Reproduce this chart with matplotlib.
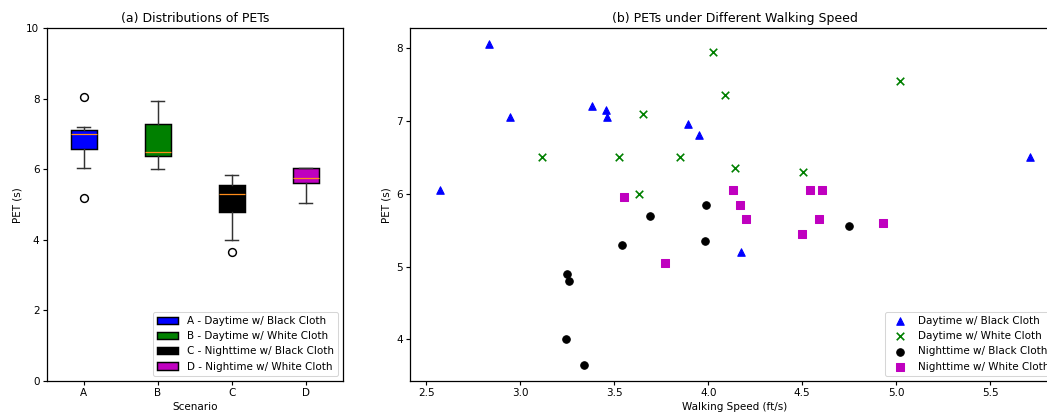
import numpy as np
import matplotlib
matplotlib.use("Agg")
import matplotlib.pyplot as plt

# walking speed (ft/s) and PET (s) per scenario
speed_a = [2.57, 2.835, 2.945, 3.38, 3.455, 3.46, 3.89, 3.95, 4.175, 5.71]
pet_a = [6.05, 8.05, 7.05, 7.2, 7.15, 7.05, 6.95, 6.8, 5.2, 6.5]

speed_b = [3.115, 3.525, 3.655, 3.633, 3.85, 4.027, 4.09, 4.14, 4.505, 5.02]
pet_b = [6.5, 6.5, 7.1, 6.0, 6.5, 7.95, 7.35, 6.35, 6.3, 7.55]

speed_c = [3.25, 3.26, 3.245, 3.34, 3.54, 3.69, 3.99, 3.985, 4.75]
pet_c = [4.9, 4.8, 4.0, 3.65, 5.3, 5.7, 5.85, 5.35, 5.56]

speed_d = [3.553, 3.77, 4.13, 4.17, 4.2, 4.543, 4.606, 4.59, 4.5, 4.93]
pet_d = [5.95, 5.05, 6.05, 5.85, 5.65, 6.05, 6.05, 5.65, 5.45, 5.6]

scenarios = ["A", "B", "C", "D"]
box_labels = ["A - Daytime w/ Black Cloth", "B - Daytime w/ White Cloth",
              "C - Nighttime w/ Black Cloth", "D - Nightime w/ White Cloth"]
scatter_labels = ["Daytime w/ Black Cloth", "Daytime w/ White Cloth",
                  "Nighttime w/ Black Cloth", "Nighttime w/ White Cloth"]
colors = ["blue", "green", "black", "m"]
markers = ["^", "x", "o", "s"]

plt.rcParams["axes.linewidth"] = 1.2
plt.rcParams["xtick.major.width"] = 1.1
plt.rcParams["ytick.major.width"] = 1.1

fig = plt.figure(figsize=(1047 / 75, 415 / 75), dpi=75)

# (a) box plots
ax1 = fig.add_axes([0.0446, 0.0819, 0.283, 0.850])
lw = 1.4
bp = ax1.boxplot([pet_a, pet_b, pet_c, pet_d], patch_artist=True, widths=0.35,
                 boxprops=dict(linewidth=lw),
                 whiskerprops=dict(linewidth=lw, color="#333333"),
                 capprops=dict(linewidth=lw, color="#333333"),
                 medianprops=dict(linewidth=1.2, color="#ff8c1a"),
                 flierprops=dict(markersize=7.5, markeredgewidth=1.4))
for patch, c in zip(bp["boxes"], colors):
    patch.set_facecolor(c)
ax1.set_xticks([1, 2, 3, 4], scenarios)
ax1.set_ylim(0, 10)
ax1.set_title("(a) Distributions of PETs")
ax1.set_xlabel("Scenario")
ax1.set_ylabel("PET (s)")
ax1.legend(bp["boxes"], box_labels, loc="lower right")

# (b) scatter vs walking speed
ax2 = fig.add_axes([0.3916, 0.0819, 0.620, 0.850])
for xs, ys, c, mk, lab in zip([speed_a, speed_b, speed_c, speed_d],
                              [pet_a, pet_b, pet_c, pet_d],
                              colors, markers, scatter_labels):
    ax2.scatter(xs, ys, color=c, marker=mk, label=lab, s=52,
                linewidths=1.6 if mk == "x" else 1.0)
ax2.set_title("(b) PETs under Different Walking Speed")
ax2.set_xlabel("Walking Speed (ft/s)")
ax2.set_ylabel("PET (s)")
ax2.legend(loc="lower right")

fig.savefig("out.png", dpi=75)
